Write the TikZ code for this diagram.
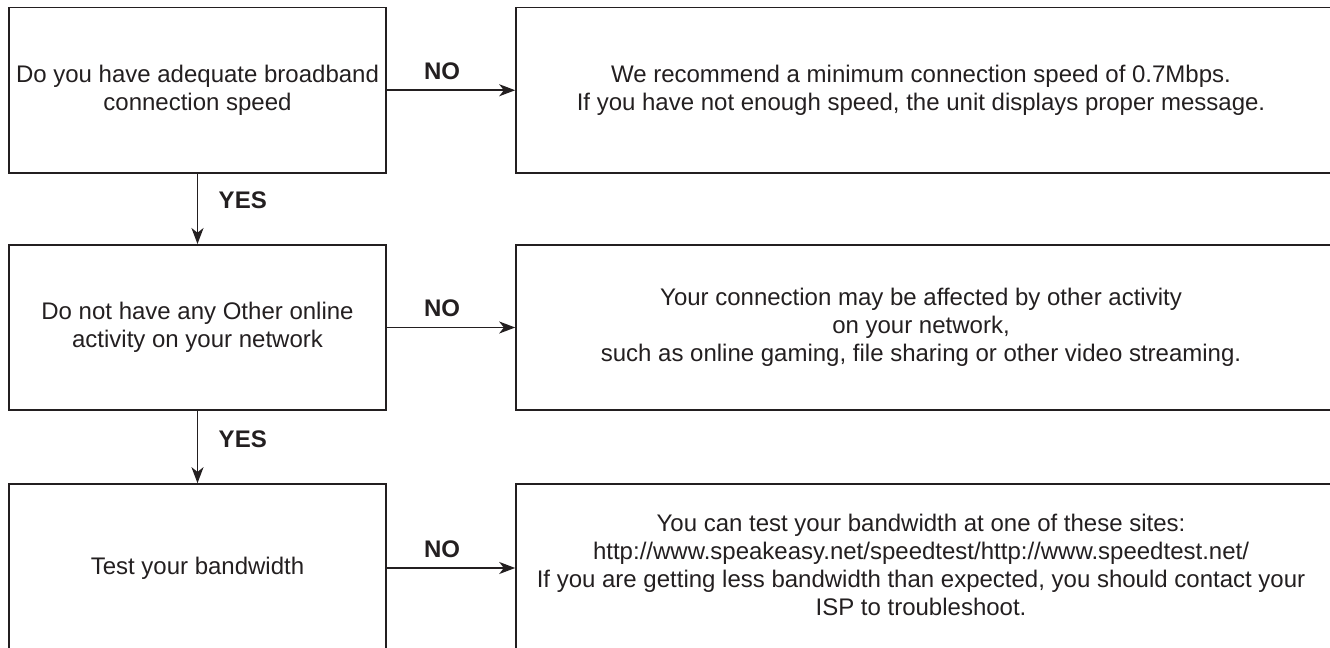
\documentclass[tikz,border=0pt]{standalone}
\usepackage{fontspec}
\setmainfont{Liberation Sans}
\usetikzlibrary{arrows.meta}
\definecolor{ink}{RGB}{35,31,32}
\begin{document}
\begin{tikzpicture}[x=0.75pt,y=-0.75pt,
  txt/.style={align=center,text=ink,font=\fontsize{18}{21}\selectfont},
  lbox/.style={draw=ink,line width=1.2pt,minimum width=282.75pt,minimum height=#1,inner sep=0pt,txt},
  rbox/.style={draw=ink,line width=1.2pt,minimum width=618pt,minimum height=#1,inner sep=0pt},
  arr/.style={draw=ink,line width=1.2pt,-{Stealth[length=12pt,width=9pt,inset=3.5pt]}},
  nolab/.style={pos=0.43,anchor=base,yshift=8pt,text=ink,font=\bfseries\fontsize{18}{21}\selectfont},
  yeslab/.style={pos=0.5,anchor=base west,xshift=12pt,text=ink,font=\bfseries\fontsize{18}{21}\selectfont}]
\useasboundingbox (0,0) rectangle (1330,648);
\clip (0,0) rectangle (1330,648);
% left column
\node[lbox=124pt] (b1) at (197.5,90.25) {Do you have adequate broadband\\connection speed};
\node[lbox=124pt] (b2) at (197.5,327.5) {Do not have any Other online\\activity on your network};
\node[lbox=126pt] (b3) at (197.5,568) {Test your bandwidth};
% right column
\node[rbox=124pt] (r1) at (928,90.25) {};
\node[rbox=124pt] (r2) at (928,327.5) {};
\node[rbox=126pt] (r3) at (928,568) {};
\node[txt] (t1) at (921,90.25) {We recommend a minimum connection speed of 0.7Mbps.\\If you have not enough speed, the unit displays proper message.};
\node[txt] (t2) at (921,327.5) {Your connection may be affected by other activity\\on your network,\\such as online gaming, file sharing or other video streaming.};
\node[txt] (t3) at (921,565) {You can test your bandwidth at one of these sites:\\http://www.speakeasy.net/speedtest/http://www.speedtest.net/\\If you are getting less bandwidth than expected, you should contact your\\ISP to troubleshoot.};
% connectors
\draw[arr] (b1.east) -- node[nolab] {NO} (r1.west);
\draw[arr] (b2.east) -- node[nolab] {NO} (r2.west);
\draw[arr] (b3.east) -- node[nolab] {NO} (r3.west);
\draw[arr] (b1.south) -- node[yeslab] {YES} (b2.north);
\draw[arr] (b2.south) -- node[yeslab] {YES} (b3.north);
\end{tikzpicture}
\end{document}
